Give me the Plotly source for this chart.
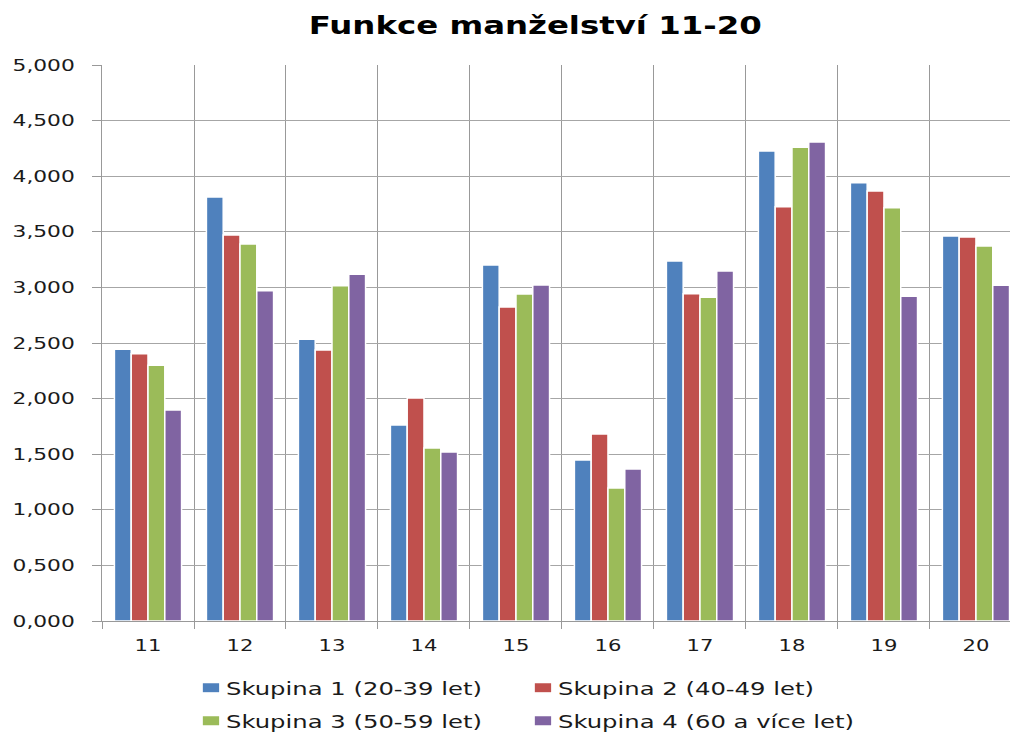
import plotly.graph_objects as go

categories = ["11", "12", "13", "14", "15", "16", "17", "18", "19", "20"]
series_names = ["Skupina 1 (20-39 let)", "Skupina 2 (40-49 let)",
                "Skupina 3 (50-59 let)", "Skupina 4 (60 a více let)"]
s1 = [2.443, 3.813, 2.533, 1.763, 3.201, 1.448, 3.237, 4.227, 3.942, 3.462]
s2 = [2.404, 3.471, 2.437, 2.005, 2.824, 1.682, 2.943, 3.726, 3.867, 3.453]
s3 = [2.300, 3.390, 3.015, 1.556, 2.941, 1.196, 2.911, 4.260, 3.717, 3.372]
s4 = [1.897, 2.970, 3.118, 1.520, 3.022, 1.367, 3.147, 4.307, 2.920, 3.019]
colors = ["#4F81BD", "#C0504D", "#9BBB59", "#8064A2"]
legend_ids = ["legend", "legend", "legend2", "legend2"]

fig = go.Figure()
for name, vals, c, lg in zip(series_names, [s1, s2, s3, s4], colors, legend_ids):
    fig.add_trace(go.Bar(x=categories, y=vals, name=name, legend=lg,
                         marker=dict(color=c, line=dict(color="white", width=1.5))))

legend_common = dict(orientation="h", xanchor="left", yanchor="middle",
                     entrywidth=287, entrywidthmode="pixels", itemwidth=30,
                     bgcolor="rgba(0,0,0,0)",
                     font=dict(family="DejaVu Sans", size=18, color="#1a1a1a"))

fig.update_layout(
    width=1010, height=733,
    separators=",.",
    paper_bgcolor="white", plot_bgcolor="white",
    margin=dict(l=102, r=0, t=65, b=112, autoexpand=False),
    title=dict(text="<b>Funkce manželství 11-20</b>", x=0.53, xanchor="center",
               y=0.965, yanchor="middle",
               font=dict(family="DejaVu Sans", size=24, color="black")),
    font=dict(family="DejaVu Sans", size=16, color="#1a1a1a"),
    barmode="group", bargap=0.27, bargroupgap=0.0,
    legend=dict(x=0.098, y=-0.1205, **legend_common),
    legend2=dict(x=0.098, y=-0.18, **legend_common),
    xaxis=dict(type="category", tickson="boundaries", ticks="outside", ticklen=7,
               tickcolor="#999999", showgrid=True, gridcolor="#999999", gridwidth=1,
               showline=True, linecolor="#999999", linewidth=1,
               range=[-0.5, 9.37], automargin=False, ticklabelstandoff=10,
               tickfont=dict(family="DejaVu Sans", size=16, color="#1a1a1a")),
    yaxis=dict(range=[0, 5], dtick=0.5, tickformat=".3f", ticks="outside", ticklen=9,
               tickcolor="#999999", showgrid=True, gridcolor="#a6a6a6", gridwidth=1,
               showline=True, linecolor="#999999", linewidth=1, zeroline=False,
               automargin=False, ticklabelstandoff=14,
               tickfont=dict(family="DejaVu Sans", size=16, color="#1a1a1a")),
)

post_js = """
document.body.style.margin = '0';
document.body.style.overflow = 'hidden';
var gd = document.querySelector('.js-plotly-plot');
function done(el) { return (el.getAttribute('transform') || '').indexOf('scale(') >= 0; }
function sx(el, s, anchor, dx) {
  if (done(el)) return;
  var bb = el.getBBox();
  if (!bb || bb.width === 0) return;
  var ax = anchor === 'start' ? bb.x : (anchor === 'end' ? bb.x + bb.width : bb.x + bb.width / 2);
  var t = el.getAttribute('transform') || '';
  el.setAttribute('transform', t + ' translate(' + (ax + (dx || 0)) + ',0) scale(' + s + ',1) translate(' + (-ax) + ',0)');
}
function applyStretch() {
  try {
    document.querySelectorAll('.gtitle').forEach(function(e){ sx(e, 1.35, 'middle'); });
    document.querySelectorAll('.ytick text').forEach(function(e){ sx(e, 1.36, 'end'); });
    document.querySelectorAll('.xtick text').forEach(function(e){ sx(e, 1.32, 'middle'); });
    document.querySelectorAll('g.traces text').forEach(function(e){ sx(e, 1.35, 'start', -5); });
    document.querySelectorAll('g.traces .legendpoints path').forEach(function(e){
      if (done(e)) return;
      var t = e.getAttribute('transform') || '';
      e.setAttribute('transform', t + ' scale(1.55,0.85)');
    });
  } catch (err) {}
}
applyStretch();
var mo = new MutationObserver(function(){ applyStretch(); });
mo.observe(gd, {childList: true, subtree: true, attributes: true, attributeFilter: ['transform', 'x', 'y']});
gd.on('plotly_afterplot', applyStretch);
requestAnimationFrame(applyStretch);
setTimeout(applyStretch, 50);
"""

fig.write_html("out.html", post_script=post_js, config={"displayModeBar": False})
